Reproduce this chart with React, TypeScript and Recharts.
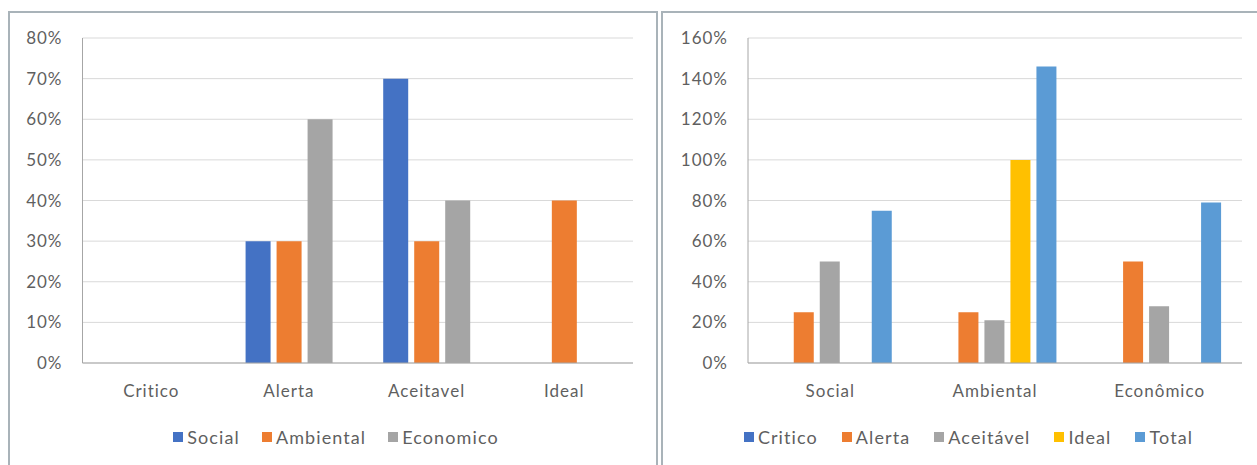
import { BarChart, Bar, XAxis, YAxis, CartesianGrid, Legend } from "recharts";

// left chart: share of each dimension per sustainability level
const levels = ["Critico", "Alerta", "Aceitavel", "Ideal"];
const socialPct = [0, 30, 70, 0];
const ambientalPct = [0, 30, 30, 40];
const economicoPct = [0, 60, 40, 0];
const leftTicks = [0, 10, 20, 30, 40, 50, 60, 70, 80];
const leftSeries = ["Social", "Ambiental", "Economico"];

// right chart: level mix per dimension
const dimensions = ["Social", "Ambiental", "Econômico"];
const criticoPct = [0, 0, 0];
const alertaPct = [25, 25, 50];
const aceitavelPct = [50, 21, 28];
const idealPct = [0, 100, 0];
const totalPct = [75, 146, 79];
const rightTicks = [0, 20, 40, 60, 80, 100, 120, 140, 160];
const rightSeries = ["Critico", "Alerta", "Aceitável", "Ideal", "Total"];

const FONT = "Lato, 'Open Sans', sans-serif";
const TEXT = "#5f5f5f";
const FRAME = "#a6a6a6";
const GRID = "#d9d9d9";
const PANEL = "#a9b3b9";

const leftData = levels.map((name, i) => ({
  name,
  Social: socialPct[i],
  Ambiental: ambientalPct[i],
  Economico: economicoPct[i],
}));

const rightData = dimensions.map((name, i) => ({
  name,
  Critico: criticoPct[i],
  Alerta: alertaPct[i],
  "Aceitável": aceitavelPct[i],
  Ideal: idealPct[i],
  Total: totalPct[i],
}));

const tick = { fill: TEXT, fontSize: 17, fontFamily: FONT, letterSpacing: 1 };

function LegendRow({ payload, order, shift, gap }: any) {
  const items = [...(payload || [])].sort((a: any, b: any) => order.indexOf(a.value) - order.indexOf(b.value));
  return (
    <div style={{ display: "flex", justifyContent: "center", gap, paddingLeft: shift, fontFamily: FONT, fontSize: 18, letterSpacing: 1.1, color: TEXT, lineHeight: "24px" }}>
      {items.map((p: any) => (
        <span key={p.value} style={{ display: "flex", alignItems: "center" }}>
          <span style={{ width: 10, height: 10, background: p.color, marginRight: 4, display: "inline-block" }} />
          {p.value}
        </span>
      ))}
    </div>
  );
}

export default function App() {
  return (
    <div style={{ position: "absolute", left: 0, top: 0, width: 1257, height: 465, background: "#fff", overflow: "hidden" }}>
      <div style={{ position: "absolute", left: 8, top: 11, width: 650, height: 470, border: `2px solid ${PANEL}`, boxSizing: "border-box" }} />
      <div style={{ position: "absolute", left: 661, top: 11, width: 610, height: 470, border: `2px solid ${PANEL}`, boxSizing: "border-box" }} />

      <div style={{ position: "absolute", left: 9, top: 12 }}>
        <BarChart width={648} height={452} data={leftData} margin={{ top: 26, right: 24, bottom: 15, left: 0 }} barCategoryGap="18.5%" barGap={6}>
          <CartesianGrid vertical={false} stroke={GRID} />
          <XAxis dataKey="name" tick={tick} tickLine={false} tickSize={0} tickMargin={22} height={62} axisLine={{ stroke: FRAME }} />
          <XAxis xAxisId="top" dataKey="name" orientation="top" height={0} tick={false} tickLine={false} axisLine={{ stroke: FRAME }} />
          <YAxis domain={[0, 80]} ticks={leftTicks} tickFormatter={(v) => `${v}%`} tick={tick} tickLine={false} tickSize={0} tickMargin={20} width={73.5} axisLine={{ stroke: FRAME }} />
          <YAxis yAxisId="right" orientation="right" domain={[0, 80]} width={0} tick={false} tickLine={false} axisLine={{ stroke: FRAME }} />
          <Legend verticalAlign="bottom" height={24} content={<LegendRow order={leftSeries} shift={30} gap={22} />} />
          <Bar dataKey="Social" fill="#4472c4" isAnimationActive={false} />
          <Bar dataKey="Ambiental" fill="#ed7d31" isAnimationActive={false} />
          <Bar dataKey="Economico" fill="#a5a5a5" isAnimationActive={false} />
        </BarChart>
      </div>

      <div style={{ position: "absolute", left: 663, top: 12 }}>
        <BarChart width={594} height={452} data={rightData} margin={{ top: 26, right: 15, bottom: 15, left: 0 }} barCategoryGap="12%" barGap={6}>
          <CartesianGrid vertical={false} stroke={GRID} />
          <XAxis dataKey="name" tick={tick} tickLine={false} tickSize={0} tickMargin={22} height={62} axisLine={{ stroke: FRAME }} />
          <XAxis xAxisId="top" dataKey="name" orientation="top" height={0} tick={false} tickLine={false} axisLine={{ stroke: FRAME }} />
          <YAxis domain={[0, 160]} ticks={rightTicks} tickFormatter={(v) => `${v}%`} tick={tick} tickLine={false} tickSize={0} tickMargin={20} width={85} axisLine={{ stroke: FRAME }} />
          <YAxis yAxisId="right" orientation="right" domain={[0, 160]} width={0} tick={false} tickLine={false} axisLine={{ stroke: FRAME }} />
          <Legend verticalAlign="bottom" height={24} content={<LegendRow order={rightSeries} shift={32} gap={24} />} />
          <Bar dataKey="Critico" fill="#4472c4" isAnimationActive={false} />
          <Bar dataKey="Alerta" fill="#ed7d31" isAnimationActive={false} />
          <Bar dataKey="Aceitável" fill="#a5a5a5" isAnimationActive={false} />
          <Bar dataKey="Ideal" fill="#ffc000" isAnimationActive={false} />
          <Bar dataKey="Total" fill="#5b9bd5" isAnimationActive={false} />
        </BarChart>
      </div>
    </div>
  );
}
